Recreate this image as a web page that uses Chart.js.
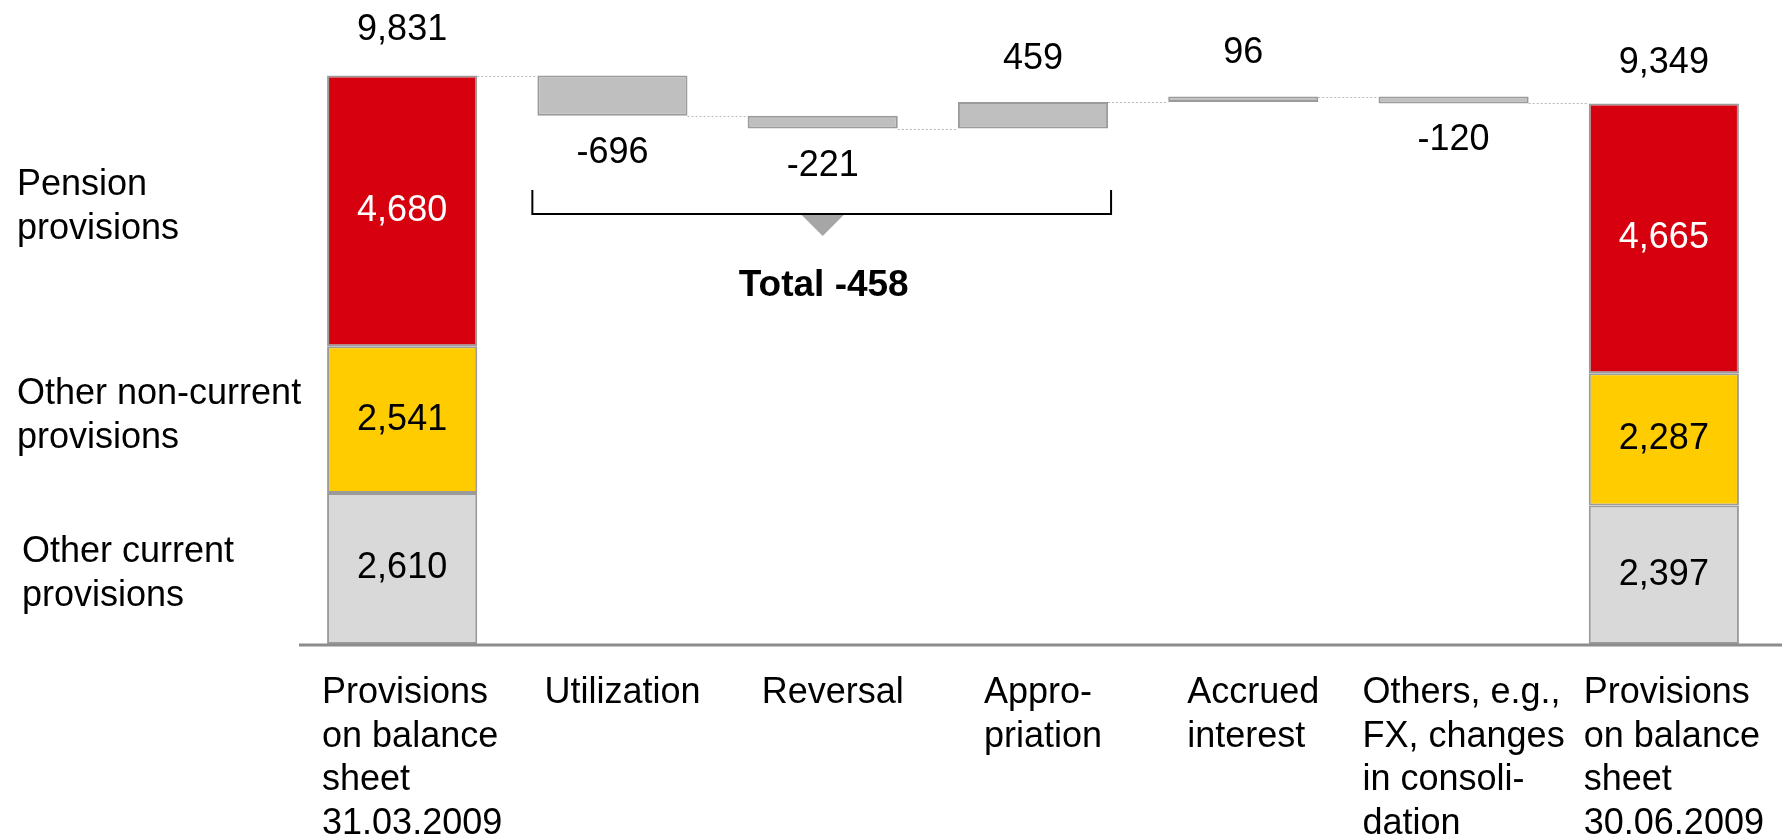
<!DOCTYPE html>
<html>
<head>
<meta charset="utf-8">
<title>Provisions development</title>
<script src="https://cdn.jsdelivr.net/npm/chart.js@4.4.1/dist/chart.umd.min.js"></script>
<style>
    html, body { margin: 0; padding: 0; background: #ffffff; }
    #wrap { width: 1782px; height: 839px; }
</style>
</head>
<body>
<div id="wrap"><canvas id="chart-provisions" width="1782" height="839"></canvas></div>
<script>
// Datos del gráfico
const categories = [
    ['Provisions', 'on balance', 'sheet', '31.03.2009'],
    ['Utilization'],
    ['Reversal'],
    ['Appro-', 'priation'],
    ['Accrued', 'interest'],
    ['Others, e.g.,', 'FX, changes', 'in consoli-', 'dation'],
    ['Provisions', 'on balance', 'sheet', '30.06.2009']
];
const segmentNames = [
    ['Other current', 'provisions'],
    ['Other non-current', 'provisions'],
    ['Pension', 'provisions']
];
const currentValues = [2610, 2397];      // inicio, fin
const nonCurrentValues = [2541, 2287];
const pensionValues = [4680, 4665];
const changeValues = [-696, -221, 459, 96, -120];
const bracketRange = [1, 3];             // Utilization .. Appropriation

const FONT = "'Liberation Sans', Arial, Helvetica, sans-serif";
const BAR_PCT = 0.714;
const fmt = v => v.toLocaleString('en-US');

/**
 * Construir series flotantes a partir de los arreglos
 */
const n = categories.length;
const last = n - 1;
const emptyRow = () => new Array(n).fill(null);

const segments = [currentValues, nonCurrentValues, pensionValues];
const segmentRanges = segments.map(() => emptyRow());
[0, last].forEach((col, k) => {
    let base = 0;
    segments.forEach((vals, s) => {
        segmentRanges[s][col] = [base, base + vals[k]];
        base += vals[k];
    });
});

const startTotal = currentValues[0] + nonCurrentValues[0] + pensionValues[0];
const endTotal = currentValues[1] + nonCurrentValues[1] + pensionValues[1];
const levels = [startTotal];
const changeRanges = emptyRow();
changeValues.forEach((v, i) => {
    const prev = levels[levels.length - 1];
    changeRanges[i + 1] = [prev, prev + v];
    levels.push(prev + v);
});
levels.push(endTotal);

const segmentColors = ['#d9d9d9', '#ffcc00', '#d7000f'];
const segmentTextColors = ['#000000', '#000000', '#ffffff'];

/**
 * Plugin: ejes, conectores, etiquetas y llave de total
 */
const overlayPlugin = {
    id: 'overlay',
    afterDatasetsDraw(chart) {
        const { ctx, chartArea } = chart;
        const x = chart.scales.x;
        const y = chart.scales.y;
        const slot = (chartArea.right - chartArea.left) / n;
        const half = slot * BAR_PCT / 2;
        const zeroY = y.getPixelForValue(0);

        ctx.save();

        // línea base
        ctx.strokeStyle = '#8c8c8c';
        ctx.lineWidth = 3;
        ctx.beginPath();
        ctx.moveTo(chartArea.left + 2, zeroY + 1);
        ctx.lineTo(chart.width, zeroY + 1);
        ctx.stroke();

        // conectores punteados
        ctx.strokeStyle = '#b8b8b8';
        ctx.lineWidth = 1;
        ctx.setLineDash([2, 2]);
        for (let k = 0; k < last; k++) {
            const yy = Math.round(y.getPixelForValue(levels[k])) + 0.5;
            ctx.beginPath();
            ctx.moveTo(x.getPixelForValue(k) + half, yy);
            ctx.lineTo(x.getPixelForValue(k + 1) - half, yy);
            ctx.stroke();
        }
        ctx.setLineDash([]);

        ctx.textAlign = 'center';
        ctx.textBaseline = 'middle';
        ctx.font = `36px ${FONT}`;

        // valores dentro de los segmentos
        [0, last].forEach(col => {
            segmentRanges.forEach((row, s) => {
                const [a, b] = row[col];
                ctx.fillStyle = segmentTextColors[s];
                const cy = (y.getPixelForValue(a) + y.getPixelForValue(b)) / 2;
                ctx.fillText(fmt(b - a), x.getPixelForValue(col), cy);
            });
        });

        // totales
        ctx.fillStyle = '#000000';
        ctx.fillText(fmt(startTotal), x.getPixelForValue(0), y.getPixelForValue(startTotal) - 46);
        ctx.fillText(fmt(endTotal), x.getPixelForValue(last), y.getPixelForValue(endTotal) - 40);

        // variaciones
        changeValues.forEach((v, i) => {
            const [a, b] = changeRanges[i + 1];
            const cx = x.getPixelForValue(i + 1);
            if (v >= 0) {
                ctx.fillText(fmt(v), cx, y.getPixelForValue(Math.max(a, b)) - 43);
            } else {
                ctx.fillText(fmt(v), cx, y.getPixelForValue(Math.min(a, b)) + 37);
            }
        });

        // nombres de segmentos a la izquierda
        ctx.textAlign = 'left';
        segmentRanges.forEach((row, s) => {
            const [a, b] = row[0];
            const cy = (y.getPixelForValue(a) + y.getPixelForValue(b)) / 2 + (s === 0 ? 6 : -4);
            const lines = segmentNames[s];
            lines.forEach((line, j) => {
                ctx.fillText(line, 17 + (s === 0 ? 5 : 0), cy + (j - (lines.length - 1) / 2) * 44);
            });
        });

        // etiquetas de categorías (bloque centrado, líneas alineadas a la izquierda)
        categories.forEach((lines, i) => {
            const w = Math.max(...lines.map(l => ctx.measureText(l).width));
            const left = x.getPixelForValue(i) - w / 2 + 10;
            lines.forEach((line, j) => {
                ctx.textBaseline = 'alphabetic';
                ctx.fillText(line, left, zeroY + 59 + j * 43.5);
            });
        });

        // llave del total
        const [from, to] = bracketRange;
        const bx1 = x.getPixelForValue(from) - half - 5;
        const bx2 = x.getPixelForValue(to) + half + 3;
        const lowest = Math.min(...levels.slice(from - 1, to + 1));
        const by = Math.round(y.getPixelForValue(lowest)) + 85;
        ctx.strokeStyle = '#000000';
        ctx.lineWidth = 2;
        ctx.beginPath();
        ctx.moveTo(bx1, by - 24);
        ctx.lineTo(bx1, by);
        ctx.lineTo(bx2, by);
        ctx.lineTo(bx2, by - 24);
        ctx.stroke();

        const mid = x.getPixelForValue((from + to) / 2);
        ctx.fillStyle = '#a6a6a6';
        ctx.beginPath();
        ctx.moveTo(mid - 21, by + 1);
        ctx.lineTo(mid + 21, by + 1);
        ctx.lineTo(mid, by + 22);
        ctx.closePath();
        ctx.fill();

        const total = changeValues.slice(from - 1, to).reduce((s, v) => s + v, 0);
        ctx.fillStyle = '#000000';
        ctx.font = `bold 37px ${FONT}`;
        ctx.textAlign = 'center';
        ctx.textBaseline = 'middle';
        ctx.fillText(`Total ${fmt(total)}`, mid + 1, by + 72);

        ctx.restore();
    }
};

const barStyle = {
    borderColor: '#9b9b9b',
    borderWidth: 2,
    borderSkipped: false,
    grouped: false,
    barPercentage: BAR_PCT,
    categoryPercentage: 1
};

new Chart(document.getElementById('chart-provisions'), {
    type: 'bar',
    data: {
        labels: categories,
        datasets: [
            ...segmentRanges.map((row, s) => ({
                label: segmentNames[s].join(' '),
                data: row,
                backgroundColor: segmentColors[s],
                ...barStyle
            })),
            {
                label: 'Changes',
                data: changeRanges,
                backgroundColor: '#bfbfbf',
                ...barStyle
            }
        ]
    },
    options: {
        responsive: false,
        animation: false,
        layout: {
            padding: { left: 297, right: 13, top: 8, bottom: 195 }
        },
        scales: {
            x: { display: false },
            y: { display: false, min: 0, max: 11000 }
        },
        plugins: {
            legend: { display: false },
            tooltip: { enabled: false }
        }
    },
    plugins: [overlayPlugin]
});
</script>
</body>
</html>
